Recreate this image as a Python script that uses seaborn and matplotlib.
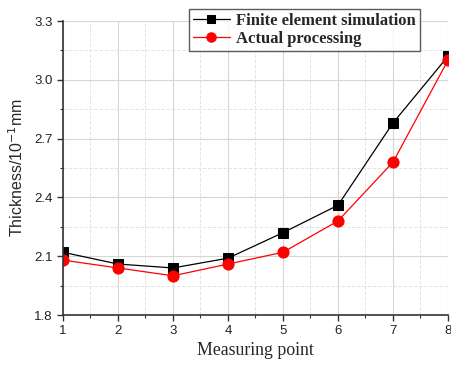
import pandas as pd
import matplotlib.pyplot as plt
import seaborn as sns
from matplotlib.ticker import MultipleLocator

points = [1, 2, 3, 4, 5, 6, 7, 8]
simulation = [2.12, 2.06, 2.04, 2.09, 2.22, 2.36, 2.78, 3.12]
actual = [2.08, 2.04, 2.00, 2.06, 2.12, 2.28, 2.58, 3.10]

df = pd.DataFrame({'point': points, 'sim': simulation, 'act': actual})

sns.set_style('white')
plt.rcParams['font.family'] = ['Liberation Sans', 'DejaVu Sans']

fig = plt.figure(figsize=(4.52, 3.65), dpi=100)
ax = fig.add_axes([63 / 452, 50 / 365, 385 / 452, 294 / 365])

sns.lineplot(data=df, x='point', y='sim', ax=ax, color='black', lw=0.9,
             marker='s', markersize=7, markeredgecolor='black',
             label='Finite element simulation')
sns.lineplot(data=df, x='point', y='act', ax=ax, color='red', lw=0.9,
             marker='o', markersize=8, markeredgecolor='red',
             label='Actual processing')

ax.set_xlim(1, 8)
ax.set_ylim(1.8, 3.3)
ax.xaxis.set_major_locator(MultipleLocator(1))
ax.xaxis.set_minor_locator(MultipleLocator(0.5))
ax.yaxis.set_major_locator(MultipleLocator(0.3))
ax.yaxis.set_minor_locator(MultipleLocator(0.15))
ax.grid(True, which='major', color='#d6d6d6', lw=0.8)
ax.grid(True, which='minor', color='#e4e4e4', lw=0.7, ls='--')
ax.set_axisbelow(True)

for s in ['top', 'right']:
    ax.spines[s].set_visible(False)
for s in ['left', 'bottom']:
    ax.spines[s].set_color('#333333')
    ax.spines[s].set_linewidth(1.2)

ax.tick_params(which='major', direction='out', length=4, width=1, labelsize=9.5,
               left=True, bottom=True, colors='#333333', labelcolor='#222222')
ax.tick_params(which='minor', direction='out', length=2.5, width=0.8,
               left=True, bottom=True, colors='#333333')
ax.set_yticks([1.8, 2.1, 2.4, 2.7, 3.0, 3.3])
ax.set_yticklabels(['1.8', '2.1', '2.4', '2.7', '3.0', '3.3'])

ax.set_xlabel('Measuring point', fontfamily='Liberation Serif', fontsize=12.8, labelpad=3)
ax.set_ylabel('Thickness/10$^{-1}$mm', fontsize=11.5, labelpad=6)

leg = ax.legend(loc='upper left', bbox_to_anchor=(189 / 452, 1 - 9 / 365),
                bbox_transform=fig.transFigure, frameon=True, fancybox=False,
                prop={'family': 'Liberation Serif', 'weight': 'bold', 'size': 12},
                borderpad=0.25, labelspacing=0.1, handlelength=2.2, handletextpad=0.4,
                borderaxespad=0, markerscale=0.85)
leg.get_frame().set_edgecolor('#333333')
leg.get_frame().set_linewidth(1.0)

fig.savefig('out.png', dpi=100)
